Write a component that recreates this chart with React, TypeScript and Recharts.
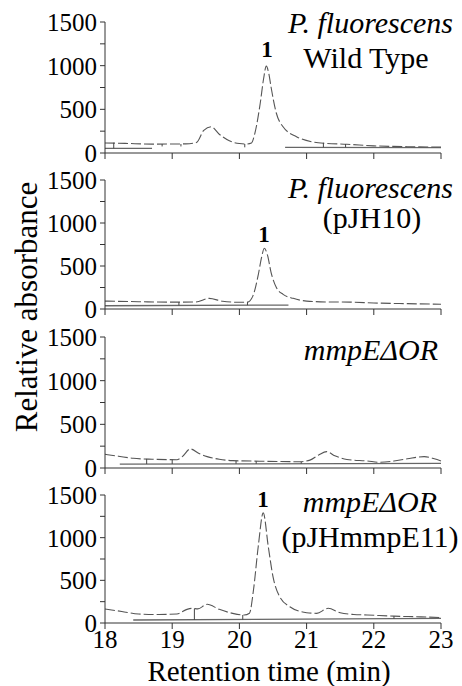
import { Line, LineChart, ReferenceLine, XAxis, YAxis } from "recharts"

// retention time (min) / absorbance per trace
const wtTime = [18.0, 18.3, 18.7, 19.0, 19.2, 19.36, 19.47, 19.58, 19.7, 19.85, 20.0, 20.1, 20.18, 20.23, 20.31, 20.36, 20.4, 20.44, 20.47, 20.55, 20.65, 20.85, 21.1, 21.3, 21.6, 22.0, 22.5, 23.0]
const wtValue = [115, 110, 102, 103, 105, 120, 260, 300, 215, 140, 108, 103, 115, 225, 570, 850, 995, 900, 760, 455, 300, 187, 125, 110, 100, 82, 72, 68]

const pjhTime = [18.0, 18.5, 19.0, 19.35, 19.55, 19.75, 20.0, 20.12, 20.2, 20.28, 20.33, 20.37, 20.42, 20.47, 20.55, 20.65, 20.8, 21.0, 21.3, 21.65, 22.0, 22.5, 23.0]
const pjhValue = [92, 85, 80, 82, 124, 90, 78, 80, 150, 395, 600, 706, 620, 430, 250, 170, 124, 92, 82, 80, 70, 62, 55]

const mutTime = [18.0, 18.2, 18.42, 18.7, 19.07, 19.15, 19.27, 19.4, 19.52, 19.7, 19.9, 20.3, 20.9, 21.05, 21.18, 21.3, 21.42, 21.6, 21.9, 22.1, 22.3, 22.5, 22.75, 22.9, 23.0]
const mutValue = [157, 135, 111, 100, 95, 130, 218, 165, 130, 100, 84, 78, 72, 90, 150, 187, 140, 98, 80, 65, 80, 105, 130, 105, 80]

const compTime = [18.0, 18.25, 18.5, 18.8, 19.07, 19.22, 19.3, 19.38, 19.52, 19.7, 19.9, 20.07, 20.15, 20.21, 20.28, 20.355, 20.43, 20.5, 20.6, 20.75, 21.0, 21.15, 21.32, 21.5, 21.7, 21.9, 22.3, 22.7, 23.0]
const compValue = [164, 135, 105, 100, 105, 160, 172, 165, 219, 160, 113, 94, 115, 390, 894, 1290, 894, 543, 308, 191, 121, 113, 172, 120, 100, 94, 80, 72, 63]

// integration baselines (null = gap)
const wtBaseTime = [18.0, 18.7, 18.71, 20.68, 23.0]
const wtBaseValue = [53, 53, null, 65, 62]
const pjhBaseTime = [18.0, 20.73]
const pjhBaseValue = [38, 46]
const mutBaseTime = [18.22, 23.0]
const mutBaseValue = [44, 52]
const compBaseTime = [18.42, 23.0]
const compBaseValue = [35, 55]

// peak delimiter marks: time, low, high
const wtMarkTime = [18.13, 18.85, 19.13, 20.08, 21.25, 21.58]
const wtMarkLow = [53, 75, 75, 65, 65, 65]
const wtMarkHigh = [118, 103, 103, 103, 118, 103]
const pjhMarkTime = [19.1, 20.12]
const pjhMarkLow = [42, 44]
const pjhMarkHigh = [80, 80]
const mutMarkTime = [18.62, 19.0, 19.95, 20.25, 20.92]
const mutMarkLow = [45, 46, 48, 48, 49]
const mutMarkHigh = [105, 96, 82, 78, 72]
const compMarkTime = [19.33, 20.05, 22.3]
const compMarkLow = [36, 40, 50]
const compMarkHigh = [168, 94, 80]

const xTicks = [18, 19, 20, 21, 22, 23]
const yTicks = [0, 250, 500, 750, 1000, 1250, 1500]

const toRows = (t: number[], v: (number | null)[]) => t.map((time, i) => ({ time, v: v[i] }))

const panels = [
  { trace: toRows(wtTime, wtValue), base: toRows(wtBaseTime, wtBaseValue), marks: [wtMarkTime, wtMarkLow, wtMarkHigh], top: 22, bottom: 153 },
  { trace: toRows(pjhTime, pjhValue), base: toRows(pjhBaseTime, pjhBaseValue), marks: [pjhMarkTime, pjhMarkLow, pjhMarkHigh], top: 180, bottom: 309 },
  { trace: toRows(mutTime, mutValue), base: toRows(mutBaseTime, mutBaseValue), marks: [mutMarkTime, mutMarkLow, mutMarkHigh], top: 337, bottom: 468 },
  { trace: toRows(compTime, compValue), base: toRows(compBaseTime, compBaseValue), marks: [compMarkTime, compMarkLow, compMarkHigh], top: 495, bottom: 623 },
]

const FONT = "Liberation Serif, DejaVu Serif, Times New Roman, Times, serif"
const PAD_TOP = 14

function Panel({ p, last }: { p: (typeof panels)[number]; last: boolean }) {
  const xH = last ? 32 : 16
  const h = PAD_TOP + (p.bottom - p.top) + xH
  return (
    <div style={{ position: "absolute", left: 0, top: p.top - PAD_TOP }}>
      <LineChart width={462} height={h} margin={{ top: PAD_TOP, right: 21, left: 0, bottom: 0 }} style={{ fontFamily: FONT }}>
        <XAxis
          dataKey="time"
          type="number"
          domain={[18, 23]}
          ticks={xTicks}
          allowDuplicatedCategory={false}
          height={xH}
          tickSize={6}
          tickMargin={1}
          tickFormatter={(v) => (last ? String(v) : "")}
          tick={{ fontSize: 25, fill: "#000", style: { fontFamily: FONT } }}
          stroke="#333"
        />
        <YAxis
          type="number"
          domain={[0, 1500]}
          ticks={yTicks}
          width={105}
          tickSize={5}
          tickMargin={3}
          interval={0}
          tickFormatter={(v) => (v % 500 === 0 ? String(v) : "")}
          tick={{ fontSize: 25, fill: "#000", style: { fontFamily: FONT } }}
          stroke="#333"
        />
        <Line
          data={p.base}
          dataKey="v"
          type="linear"
          stroke="#666"
          strokeWidth={1.3}
          dot={false}
          connectNulls={false}
          isAnimationActive={false}
        />
        <Line
          data={p.trace}
          dataKey="v"
          type="monotone"
          stroke="#555"
          strokeWidth={1.1}
          strokeDasharray="10 3"
          dot={false}
          isAnimationActive={false}
        />
        {p.marks[0].map((t, i) => (
          <ReferenceLine
            key={i}
            segment={[
              { x: t, y: p.marks[1][i] },
              { x: t, y: p.marks[2][i] },
            ]}
            stroke="#444"
            strokeWidth={1}
            ifOverflow="visible"
          />
        ))}
      </LineChart>
    </div>
  )
}

export default function App() {
  const txt = { fontFamily: FONT }
  return (
    <div style={{ position: "absolute", left: 0, top: 0, width: 462, height: 686, background: "#fff", fontFamily: FONT }}>
      {panels.map((p, i) => (
        <Panel key={i} p={p} last={i === panels.length - 1} />
      ))}
      <svg width={462} height={686} style={{ position: "absolute", left: 0, top: 0, pointerEvents: "none", fontFamily: FONT }} fill="#000">
        <text style={txt} x={453} y={33} fontSize={30} fontStyle="italic" textAnchor="end">P. fluorescens</text>
        <text style={txt} x={366} y={68} fontSize={30} textAnchor="middle">Wild Type</text>
        <text style={txt} x={267} y={57} fontSize={23} fontWeight="bold" textAnchor="middle">1</text>

        <text style={txt} x={453} y={198} fontSize={30} fontStyle="italic" textAnchor="end">P. fluorescens</text>
        <text style={txt} x={372} y={228} fontSize={30} textAnchor="middle">(pJH10)</text>
        <text style={txt} x={264} y={242} fontSize={23} fontWeight="bold" textAnchor="middle">1</text>

        <text style={txt} x={438} y={360} fontSize={30} fontStyle="italic" textAnchor="end">mmpEΔOR</text>

        <text style={txt} x={437} y={512} fontSize={30} fontStyle="italic" textAnchor="end">mmpEΔOR</text>
        <text style={txt} x={370} y={547} fontSize={30} textAnchor="middle">(pJHmmpE11)</text>
        <text style={txt} x={263} y={507} fontSize={23} fontWeight="bold" textAnchor="middle">1</text>

        <text style={txt} x={269} y={681} fontSize={29} textAnchor="middle">Retention time (min)</text>
        <text style={txt} x={37} y={307} fontSize={31} textAnchor="middle" transform="rotate(-90 37 307)">Relative absorbance</text>
      </svg>
    </div>
  )
}
